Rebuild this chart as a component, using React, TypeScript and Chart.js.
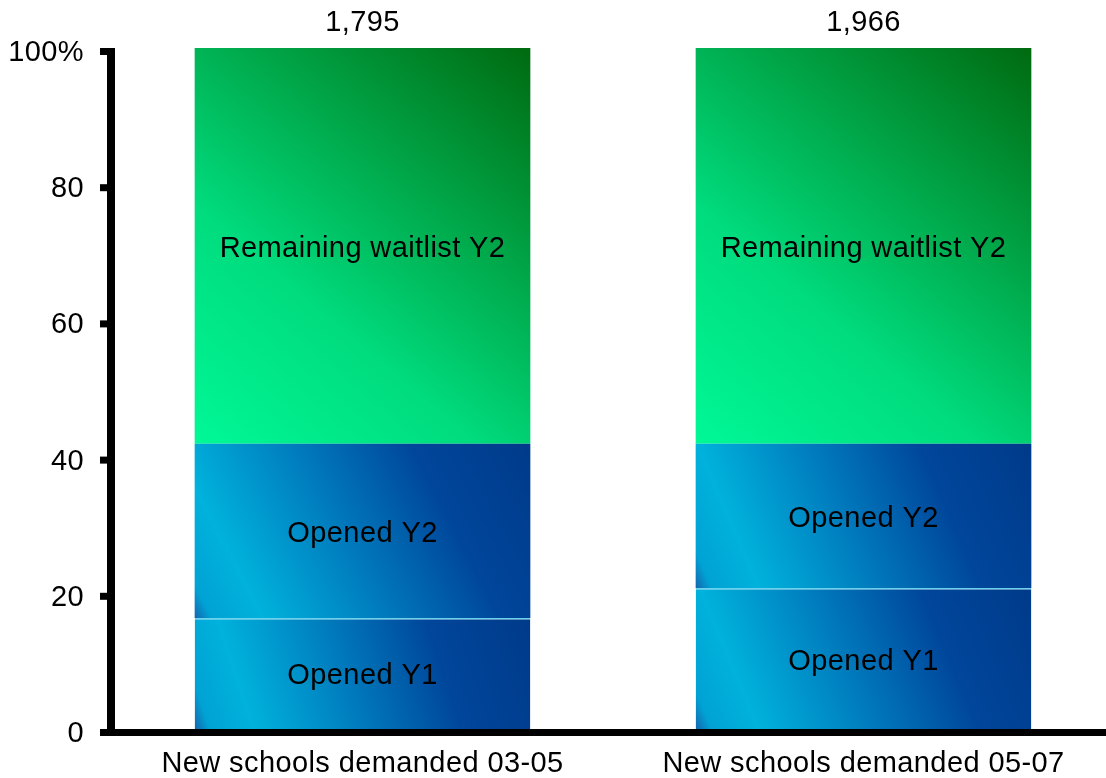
import React, { useEffect, useRef } from "react";
import { Chart, registerables } from "chart.js";

Chart.register(...registerables);

const categories = ["New schools demanded 03-05", "New schools demanded 05-07"];
const openedY1 = [16.3, 20.7];
const openedY2 = [25.6, 21.2];
const remainingY2 = [58.1, 58.1];
const totals = [1795, 1966];
const seriesLabels = ["Opened Y1", "Opened Y2", "Remaining waitlist Y2"];
const yTickValues = [0, 20, 40, 60, 80, 100];

const FONT = '"Liberation Sans", Arial, Helvetica, sans-serif';
const FONT_SIZE = 29;
const BAR_FRACTION = 0.67;
const LETTER_SPACING = "0.4px";

const blueStops: [number, string][] = [
  [0, "#1466ae"],
  [0.04, "#00a2d4"],
  [0.16, "#00b2dc"],
  [0.42, "#0080c0"],
  [0.72, "#00469b"],
  [1, "#003a8a"],
];
const greenStops: [number, string][] = [
  [0, "#00f896"],
  [0.35, "#00dc7e"],
  [0.65, "#00a84a"],
  [1, "#006a10"],
];

function segGradient(stops: [number, string][]) {
  return (ctx: any) => {
    const fallback = stops[Math.floor(stops.length / 2)][1];
    const chart = ctx.chart;
    const x = chart.scales?.x;
    const y = chart.scales?.y;
    if (ctx.type !== "data" || !x || !y) return fallback;
    const i = ctx.dataIndex;
    const dsi = ctx.datasetIndex;
    let start = 0;
    for (let d = 0; d < dsi; d++) start += chart.data.datasets[d].data[i];
    const end = start + chart.data.datasets[dsi].data[i];
    const cx = x.getPixelForValue(i);
    const catW = x.width / chart.data.labels.length;
    const half = (catW * BAR_FRACTION) / 2;
    const x0 = cx - half;
    const x1 = cx + half;
    const y0 = y.getPixelForValue(start);
    const y1 = y.getPixelForValue(end);
    if (![x0, x1, y0, y1].every((v) => Number.isFinite(v)) || x1 - x0 <= 0) return fallback;
    const g = chart.ctx.createLinearGradient(x0, y0, x1, y1);
    stops.forEach(([o, c]) => g.addColorStop(o, c));
    return g;
  };
}

const overlay = {
  id: "overlay",
  beforeDraw(chart: any) {
    (chart.ctx as any).letterSpacing = LETTER_SPACING;
  },
  afterDraw(chart: any) {
    const { ctx, chartArea: a, scales } = chart;
    const x = scales.x;
    const y = scales.y;
    ctx.save();
    ctx.fillStyle = "#000";
    const yTop = y.getPixelForValue(100);
    // vertical axis line
    ctx.fillRect(a.left - 5, yTop, 8, a.bottom + 7 - yTop);
    // tick marks
    yTickValues.forEach((v) => {
      const py = y.getPixelForValue(v);
      ctx.fillRect(a.left - 12, py, 9, 7);
    });
    // horizontal axis line
    ctx.fillRect(a.left - 12, a.bottom, chart.width, 7);

    ctx.font = `${FONT_SIZE}px ${FONT}`;
    (ctx as any).letterSpacing = LETTER_SPACING;
    ctx.textAlign = "center";
    ctx.textBaseline = "middle";
    // segment labels
    chart.data.datasets.forEach((ds: any, di: number) => {
      const meta = chart.getDatasetMeta(di);
      meta.data.forEach((el: any) => {
        ctx.fillText(ds.label, el.x, (el.y + el.base) / 2 + 3);
      });
    });
    // totals above bars
    totals.forEach((t, i) => {
      let sum = 0;
      chart.data.datasets.forEach((ds: any) => (sum += ds.data[i]));
      const top = y.getPixelForValue(sum);
      ctx.fillText(t.toLocaleString("en-US"), x.getPixelForValue(i), top - 25);
    });
    ctx.restore();
  },
};

export default function App() {
  const ref = useRef<HTMLCanvasElement>(null);
  useEffect(() => {
    if (!ref.current) return;
    const chart = new Chart(ref.current, {
      type: "bar",
      data: {
        labels: categories,
        datasets: [
          {
            label: seriesLabels[0],
            data: openedY1,
            backgroundColor: segGradient(blueStops),
            borderColor: "rgba(90,205,235,0.9)",
            borderWidth: { top: 1.5, left: 0, right: 0, bottom: 0 },
            borderSkipped: false,
          },
          {
            label: seriesLabels[1],
            data: openedY2,
            backgroundColor: segGradient(blueStops),
            borderWidth: 0,
          },
          {
            label: seriesLabels[2],
            data: remainingY2,
            backgroundColor: segGradient(greenStops),
            borderWidth: 0,
          },
        ],
      },
      options: {
        responsive: false,
        animation: false,
        devicePixelRatio: 1,
        layout: { padding: { top: 48, left: 0, right: 0, bottom: 0 } },
        datasets: {
          bar: { barPercentage: 1, categoryPercentage: BAR_FRACTION },
        },
        plugins: {
          legend: { display: false },
          tooltip: { enabled: false },
          title: { display: false },
        },
        scales: {
          x: {
            stacked: true,
            grid: { display: false, drawTicks: false },
            border: { display: false },
            ticks: {
              color: "#000",
              font: { family: FONT, size: FONT_SIZE },
              padding: 18,
              maxRotation: 0,
              autoSkip: false,
            },
            afterFit: (s: any) => {
              s.height = 49;
            },
          },
          y: {
            stacked: true,
            min: 0,
            max: 100,
            grid: { display: false, drawTicks: false },
            border: { display: false },
            ticks: {
              stepSize: 20,
              color: "#000",
              font: { family: FONT, size: FONT_SIZE },
              padding: 28,
              labelOffset: 5,
              callback: (v: any) => (v === 100 ? "100%" : String(v)),
            },
            afterFit: (s: any) => {
              s.width = 112;
            },
          },
        },
      },
      plugins: [overlay],
    });
    return () => chart.destroy();
  }, []);
  return (
    <div
      style={{
        position: "fixed",
        top: 0,
        left: 0,
        width: 1106,
        height: 778,
        overflow: "hidden",
        background: "#fff",
      }}
    >
      <canvas ref={ref} width={1114} height={778} style={{ display: "block", width: 1114, height: 778 }} />
    </div>
  );
}
